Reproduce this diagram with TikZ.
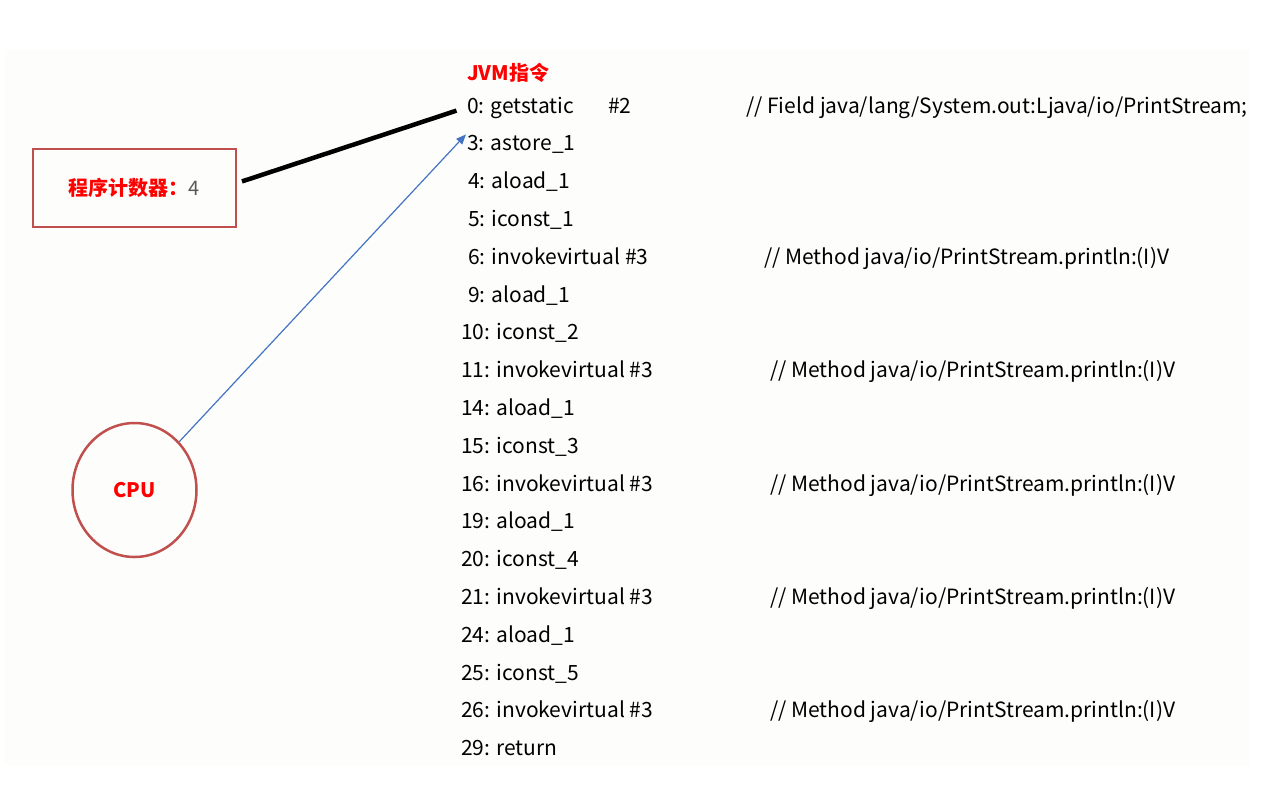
\documentclass[tikz,border=0pt]{standalone}
\usepackage{fontspec}
\setmainfont{Noto Sans CJK SC}
\usetikzlibrary{arrows.meta,shapes.geometric}
\definecolor{boxred}{RGB}{192,80,77}
\definecolor{arrowblue}{RGB}{68,114,196}
\definecolor{numgray}{RGB}{89,89,89}
\definecolor{paper}{RGB}{253,254,252}
\tikzset{
	ins/.style={anchor=base west,inner sep=1pt,font=\fontsize{21}{25}\selectfont},
	cmt/.style={ins},
	redtxt/.style={text=red,font=\fontsize{20}{24}\selectfont\bfseries}
}
\begin{document}
\begin{tikzpicture}[x=1pt,y=-1pt]
		\useasboundingbox (0,0) rectangle (1261,793);
		\fill[paper] (5,50) rectangle (1250,765);
		\node[redtxt,anchor=base west,inner sep=1pt] (jvm) at (466,80) {JVM指令};
		\node[ins] (ins0) at (466,113) {0: getstatic};
		\node[ins] (op0) at (607,113) {\#2};
		\node[cmt] (cmt0) at (745,113) {// Field java/lang/System.out:Ljava/io/PrintStream;};
		\foreach \t/\xx [count=\i] in {3: astore\_1/466, 4: aload\_1/467, 5: iconst\_1/467,
			6: invokevirtual \#3/467, 9: aload\_1/467, 10: iconst\_2/460, 11: invokevirtual \#3/460,
			14: aload\_1/460, 15: iconst\_3/460, 16: invokevirtual \#3/460, 19: aload\_1/460,
			20: iconst\_4/460, 21: invokevirtual \#3/460, 24: aload\_1/460, 25: iconst\_5/460,
			26: invokevirtual \#3/460, 29: return/460}
			\node[ins] (ins\i) at (\xx,113+\i*37.8) {\t};
		\foreach \i/\xx in {4/763,7/769,10/769,13/769,16/769}
			\node[cmt] (cmt\i) at (\xx,113+\i*37.8) {// Method java/io/PrintStream.println:(I)V};
		\node[draw=boxred,line width=2.5pt,minimum width=203,minimum height=78,inner sep=0,
			font=\fontsize{20}{24}\selectfont] (pc) at (134.5,188)
			{\textcolor{red}{\bfseries 程序计数器：}\textcolor{numgray}{4}};
		\node[draw=boxred,line width=2.5pt,ellipse,minimum width=124,minimum height=134,inner sep=0] (cpu) at (134.5,490) {};
		\node[redtxt] at (cpu) {CPU};
		\draw[line width=4.5pt,shorten <=5pt,shorten >=10pt] ([yshift=5pt]pc.east) -- (ins0.west);
		\draw[arrowblue,line width=1.2pt,-{Triangle[length=10pt,width=8pt]}] (cpu.north east) -- (ins1.north west);
	\end{tikzpicture}
\end{document}
